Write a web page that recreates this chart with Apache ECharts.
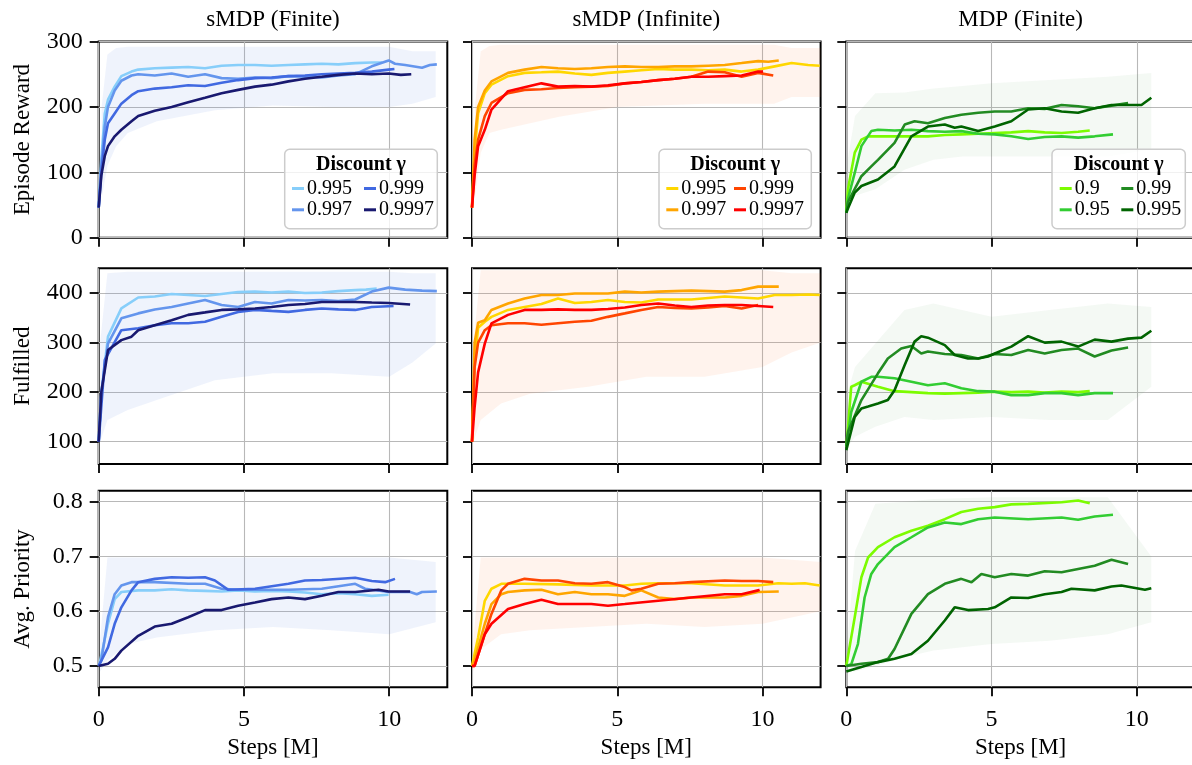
<!DOCTYPE html>
<html>
<head>
<meta charset="utf-8">
<script src="https://cdn.jsdelivr.net/npm/echarts@6/dist/echarts.min.js"></script>
<style>
  html, body { margin: 0; padding: 0; background: #fff; overflow: hidden; }
  #chart { width: 1204px; height: 765px; }
</style>
</head>
<body>
<div id="chart"></div>
<script>
// labels and ticks
const colTitles = ["sMDP (Finite)", "sMDP (Infinite)", "MDP (Finite)"];
const rowLabels = ["Episode Reward", "Fulfilled", "Avg. Priority"];
const gammaSMDP = ["0.995", "0.997", "0.999", "0.9997"];
const gammaMDP = ["0.9", "0.95", "0.99", "0.995"];
const xTicks = [0, 5, 10];
const rewardTicks = [0, 100, 200, 300];
const fulfilledTicks = [100, 200, 300, 400];
const priorityTicks = [0.5, 0.6, 0.7, 0.8];

// Episode reward, sMDP (Finite)
const sfR995 = [[0,46],[0.09,120],[0.21,190],[0.32,211],[0.55,231],[0.78,247],[1.13,254],[1.36,257],[1.93,259],[2.51,260],[3.08,261],[3.66,259],[4.23,263],[4.8,264],[5.38,264],[5.95,263],[6.53,264],[7.1,265],[7.68,266],[8.25,265],[8.83,267],[9.4,268],[9.75,268]];
const sfR997 = [[0,46],[0.09,110],[0.21,170],[0.32,200],[0.55,225],[0.78,240],[1.13,248],[1.36,250],[1.93,248],[2.51,251],[3.08,246],[3.66,250],[4.23,244],[4.8,243],[5.38,245],[5.95,244],[6.53,247],[7.1,246],[7.68,245],[8.25,248],[8.83,250],[9.4,262],[9.98,271],[10.2,266],[10.55,264],[11.13,260],[11.4,264],[11.64,265]];
const sfR999 = [[0,46],[0.09,100],[0.21,150],[0.32,175],[0.55,190],[0.78,205],[1.13,218],[1.36,224],[1.93,228],[2.51,230],[3.08,233],[3.66,232],[4.23,237],[4.8,241],[5.38,244],[5.95,245],[6.53,247],[7.1,248],[7.68,250],[8.25,251],[8.83,252],[9.4,254],[9.98,257],[10.18,258]];
const sfR9997 = [[0,46],[0.09,95],[0.21,125],[0.32,140],[0.55,155],[0.78,165],[1.13,178],[1.36,186],[1.93,194],[2.51,200],[3.08,207],[3.66,214],[4.23,221],[4.8,226],[5.38,231],[5.95,234],[6.53,239],[7.1,243],[7.68,246],[8.25,249],[8.83,251],[9.4,250],[9.98,251],[10.4,249],[10.76,250]];
// Episode reward, sMDP (Infinite)
const siR995 = [[0,46],[0.09,130],[0.21,190],[0.44,221],[0.67,234],[1.24,247],[1.81,252],[2.39,253],[2.96,254],[3.54,251],[4.11,249],[4.68,252],[5.26,254],[5.83,256],[6.41,258],[6.98,257],[7.55,257],[8.13,256],[8.7,257],[9.28,254],[9.85,257],[10.42,262],[11.0,267],[11.57,264],[11.97,263]];
const siR997 = [[0,46],[0.09,150],[0.21,200],[0.44,225],[0.67,239],[1.24,252],[1.81,257],[2.39,261],[2.96,259],[3.54,258],[4.11,259],[4.68,261],[5.26,262],[5.83,261],[6.41,261],[6.98,262],[7.55,262],[8.13,263],[8.7,264],[9.28,267],[9.85,270],[10.2,269],[10.56,271]];
const siR999 = [[0,46],[0.09,110],[0.21,150],[0.44,186],[0.67,206],[1.24,221],[1.81,226],[2.39,227],[2.96,229],[3.54,230],[4.11,231],[4.68,232],[5.26,236],[5.83,238],[6.41,241],[6.98,243],[7.55,246],[8.13,254],[8.7,253],[9.28,246],[9.85,252],[10.37,248]];
const siR9997 = [[0,46],[0.09,95],[0.21,140],[0.44,165],[0.67,196],[1.24,224],[1.81,230],[2.39,236],[2.96,231],[3.54,232],[4.11,231],[4.68,233],[5.26,236],[5.83,238],[6.41,241],[6.98,243],[7.55,246],[8.13,246],[8.7,247],[9.28,248],[9.85,254],[10.02,254]];
// Episode reward, MDP (Finite)
const mdR9 = [[0,40],[0.06,75],[0.29,130],[0.52,150],[0.75,155],[1.09,155],[1.66,155],[2.24,155],[2.81,155],[3.39,157],[3.96,158],[4.54,159],[5.11,160],[5.68,161],[6.26,163],[6.83,161],[7.41,160],[7.98,162],[8.38,164]];
const mdR95 = [[0,38],[0.06,60],[0.29,99],[0.52,140],[0.86,163],[1.09,165],[1.66,164],[2.24,165],[2.81,163],[3.39,162],[3.96,163],[4.54,159],[5.11,158],[5.68,155],[6.26,151],[6.83,154],[7.41,155],[7.98,153],[8.55,155],[9.18,158]];
const mdR99 = [[0,38],[0.06,55],[0.52,94],[0.86,109],[1.09,119],[1.66,145],[2.01,173],[2.35,178],[2.81,175],[3.39,183],[3.96,188],[4.54,191],[5.11,193],[5.68,193],[6.26,198],[6.83,197],[7.41,203],[7.98,201],[8.55,198],[9.13,202],[9.7,206]];
const mdR995 = [[0,38],[0.06,45],[0.29,69],[0.52,79],[1.09,89],[1.66,109],[2.24,155],[2.81,170],[3.39,173],[3.73,168],[3.96,170],[4.54,163],[5.11,170],[5.68,178],[6.26,196],[6.83,198],[7.41,193],[7.98,191],[8.55,198],[9.13,203],[9.7,203],[10.16,203],[10.5,214]];

// Fulfilled, sMDP (Finite)
const sfF995 = [[0,100],[0.09,197],[0.32,312],[0.78,369],[1.36,391],[1.93,393],[2.51,398],[3.08,396],[3.66,394],[4.23,398],[4.8,402],[5.38,403],[5.95,401],[6.53,403],[7.1,400],[7.68,401],[8.25,404],[8.83,406],[9.2,407],[9.57,409]];
const sfF997 = [[0,100],[0.09,200],[0.32,298],[0.78,349],[1.36,359],[1.93,367],[2.51,372],[3.08,379],[3.66,386],[4.23,376],[4.8,372],[5.38,382],[5.95,379],[6.53,386],[7.1,385],[7.68,386],[8.25,384],[8.83,387],[9.4,403],[9.98,411],[10.55,407],[11.13,405],[11.64,404]];
const sfF999 = [[0,100],[0.21,265],[0.78,325],[1.36,329],[1.93,335],[2.51,339],[3.08,339],[3.66,342],[4.23,352],[4.8,362],[5.38,366],[5.95,364],[6.53,362],[7.1,366],[7.68,369],[8.25,367],[8.83,366],[9.4,372],[10.15,374]];
const sfF9997 = [[0,100],[0.09,200],[0.32,285],[0.78,305],[1.13,312],[1.36,325],[1.93,335],[2.51,345],[3.08,356],[3.66,361],[4.23,366],[4.8,367],[5.38,369],[5.95,372],[6.53,376],[7.1,378],[7.68,382],[8.25,382],[8.83,382],[9.4,381],[9.98,380],[10.72,377]];
// Fulfilled, sMDP (Infinite)
const siF995 = [[0,100],[0.09,260],[0.21,330],[0.44,342],[0.67,352],[1.24,366],[1.81,372],[2.39,378],[2.96,389],[3.54,380],[4.11,382],[4.68,386],[5.26,382],[5.83,381],[6.41,387],[6.98,387],[7.55,387],[8.13,390],[8.7,393],[9.28,391],[9.85,389],[10.42,396],[11.0,396],[11.57,397],[11.97,396]];
const siF997 = [[0,100],[0.09,300],[0.21,340],[0.44,345],[0.67,366],[1.24,379],[1.81,389],[2.39,396],[2.96,396],[3.54,399],[4.11,399],[4.68,399],[5.26,403],[5.83,401],[6.41,403],[6.98,404],[7.55,405],[8.13,404],[8.7,403],[9.28,406],[9.85,413],[10.56,413]];
const siF999 = [[0,100],[0.09,250],[0.21,300],[0.44,325],[0.67,335],[1.24,339],[1.81,339],[2.39,336],[2.96,339],[3.54,342],[4.11,344],[4.68,352],[5.26,359],[5.83,366],[6.41,372],[6.98,370],[7.55,369],[8.13,371],[8.7,374],[9.28,369],[9.85,376]];
const siF9997 = [[0,100],[0.09,170],[0.21,240],[0.44,298],[0.67,339],[1.24,356],[1.81,366],[2.39,366],[2.96,367],[3.54,366],[4.11,366],[4.68,368],[5.26,371],[5.83,376],[6.41,379],[6.98,375],[7.55,372],[8.13,375],[8.7,376],[9.28,376],[9.85,374],[10.37,372]];
// Fulfilled, MDP (Finite)
const mdF9 = [[0,90],[0.06,130],[0.17,211],[0.29,214],[0.52,221],[1.09,211],[1.66,202],[2.24,200],[2.81,198],[3.39,197],[3.96,198],[4.54,199],[5.11,201],[5.68,200],[6.26,201],[6.83,199],[7.41,201],[7.98,200],[8.38,202]];
const mdF95 = [[0,90],[0.17,160],[0.52,221],[0.86,231],[1.09,231],[1.66,228],[2.24,221],[2.81,214],[3.39,218],[3.96,208],[4.54,202],[5.11,201],[5.68,194],[6.26,194],[6.83,198],[7.41,198],[7.98,194],[8.55,198],[9.18,198]];
const mdF99 = [[0,90],[0.06,120],[0.52,184],[1.09,238],[1.43,268],[1.89,288],[2.24,293],[2.58,278],[2.81,282],[3.39,277],[3.96,275],[4.54,268],[5.11,277],[5.68,275],[6.26,285],[6.83,278],[7.41,285],[7.98,288],[8.55,272],[9.13,284],[9.7,290]];
const mdF995 = [[0,83],[0.29,150],[0.52,167],[0.75,171],[1.09,177],[1.43,184],[1.66,204],[2.01,255],[2.35,302],[2.58,313],[2.81,310],[3.39,295],[3.73,275],[4.19,268],[4.54,268],[4.88,272],[5.11,278],[5.68,292],[6.26,313],[6.83,300],[7.41,302],[7.98,292],[8.55,306],[9.13,302],[9.7,308],[10.16,310],[10.5,324]];

// Avg. priority, sMDP (Finite)
const sfP995 = [[0,0.5],[0.03,0.504],[0.32,0.577],[0.55,0.622],[0.78,0.635],[1.36,0.638],[1.93,0.638],[2.51,0.64],[3.08,0.638],[3.66,0.637],[4.23,0.636],[4.8,0.638],[5.38,0.636],[5.95,0.637],[6.53,0.636],[7.1,0.634],[7.68,0.631],[8.25,0.633],[8.83,0.631],[9.4,0.628],[9.98,0.63]];
const sfP997 = [[0,0.5],[0.09,0.51],[0.32,0.589],[0.55,0.631],[0.78,0.647],[1.13,0.653],[1.93,0.653],[3.08,0.65],[3.66,0.65],[4.23,0.641],[4.8,0.639],[5.38,0.639],[6.53,0.639],[7.68,0.641],[8.83,0.65],[9.17,0.641],[9.98,0.635],[10.72,0.635],[10.95,0.631],[11.13,0.635],[11.64,0.636]];
const sfP999 = [[0,0.5],[0.03,0.5],[0.32,0.534],[0.55,0.577],[0.78,0.607],[1.13,0.638],[1.36,0.653],[1.93,0.659],[2.51,0.662],[3.08,0.661],[3.66,0.662],[4.0,0.656],[4.46,0.639],[5.38,0.641],[6.53,0.65],[7.1,0.656],[7.68,0.657],[8.83,0.661],[9.4,0.655],[9.86,0.653],[10.2,0.659]];
const sfP9997 = [[0,0.5],[0.32,0.504],[0.55,0.513],[0.78,0.528],[1.36,0.555],[1.93,0.572],[2.51,0.577],[3.08,0.589],[3.66,0.602],[4.23,0.602],[4.8,0.61],[5.38,0.616],[5.95,0.622],[6.53,0.625],[7.1,0.622],[7.68,0.628],[8.25,0.635],[8.83,0.635],[9.63,0.639],[9.98,0.636],[10.72,0.636]];
// Avg. priority, sMDP (Infinite)
const siP995 = [[0,0.5],[0.03,0.5],[0.21,0.552],[0.44,0.619],[0.67,0.641],[1.01,0.65],[1.81,0.65],[2.96,0.649],[4.11,0.647],[5.26,0.647],[5.83,0.65],[6.41,0.651],[7.55,0.651],[8.7,0.647],[9.85,0.647],[10.54,0.651],[11.0,0.65],[11.46,0.651],[11.97,0.647]];
const siP997 = [[0,0.5],[0.09,0.51],[0.44,0.577],[0.67,0.613],[1.01,0.631],[1.24,0.635],[1.81,0.638],[2.39,0.639],[2.96,0.631],[3.54,0.635],[4.11,0.631],[4.68,0.631],[5.26,0.628],[5.83,0.638],[6.41,0.625],[6.98,0.622],[7.55,0.625],[8.7,0.625],[9.28,0.628],[9.85,0.635],[10.56,0.636]];
const siP999 = [[0,0.5],[0.09,0.5],[0.44,0.558],[0.67,0.595],[1.01,0.638],[1.24,0.65],[1.81,0.659],[2.39,0.656],[2.96,0.656],[3.54,0.651],[4.11,0.65],[4.68,0.653],[5.26,0.644],[5.49,0.638],[5.83,0.641],[6.41,0.65],[6.98,0.651],[7.55,0.653],[8.7,0.656],[9.28,0.655],[9.85,0.655],[10.37,0.653]];
const siP9997 = [[0,0.5],[0.09,0.5],[0.44,0.558],[0.67,0.577],[1.24,0.604],[1.81,0.613],[2.39,0.621],[2.96,0.613],[4.11,0.613],[4.68,0.61],[5.26,0.613],[6.41,0.619],[7.55,0.625],[8.7,0.631],[9.28,0.631],[9.85,0.638],[9.9,0.639]];
// Avg. priority, MDP (Finite)
const mdP9 = [[0,0.5],[0.06,0.5],[0.29,0.589],[0.52,0.662],[0.75,0.698],[1.09,0.717],[1.66,0.735],[2.24,0.747],[2.81,0.756],[3.39,0.768],[3.96,0.781],[4.54,0.787],[5.11,0.79],[5.68,0.795],[6.26,0.796],[7.41,0.799],[7.98,0.802],[8.38,0.797]];
const mdP95 = [[0,0.5],[0.17,0.503],[0.4,0.54],[0.63,0.625],[0.86,0.668],[1.09,0.686],[1.66,0.717],[2.24,0.735],[2.81,0.753],[3.39,0.762],[3.96,0.759],[4.54,0.768],[5.11,0.771],[6.26,0.768],[7.41,0.771],[7.98,0.767],[8.55,0.773],[9.18,0.776]];
const mdP99 = [[0,0.5],[0.52,0.504],[1.09,0.507],[1.44,0.513],[1.66,0.531],[2.24,0.595],[2.81,0.631],[3.39,0.65],[3.96,0.659],[4.31,0.653],[4.65,0.668],[5.11,0.662],[5.68,0.668],[6.26,0.665],[6.83,0.673],[7.41,0.671],[7.98,0.677],[8.55,0.683],[9.13,0.694],[9.7,0.686]];
const mdP995 = [[0,0.49],[1.09,0.507],[1.66,0.513],[2.24,0.522],[2.81,0.546],[3.39,0.583],[3.73,0.607],[4.19,0.602],[4.88,0.604],[5.11,0.607],[5.68,0.625],[6.26,0.624],[6.83,0.631],[7.41,0.635],[7.75,0.641],[8.55,0.638],[9.13,0.645],[9.47,0.647],[10.28,0.639],[10.5,0.642]];

// spread of the raw runs behind the smoothed lines: [step, low, high]
const bandSfR = [[0.1,60,200],[0.3,110,280],[0.6,140,290],[1,160,292],[2,178,292],[4,195,292],[6,202,292],[8,200,292],[10,200,292],[10.8,205,285],[11.6,215,285]];
const bandSiR = [[0.1,60,200],[0.3,130,285],[0.6,160,293],[1,165,295],[2,175,295],[3,185,295],[5,200,295],[8,205,295],[10.4,205,295],[11,215,290],[12,215,290]];
const bandMdR = [[0.05,40,120],[0.3,64,186],[1,74,221],[2,104,222],[3,119,228],[4,124,232],[5,124,236],[7,124,241],[9,124,246],[10.5,135,252]];
const bandSfF = [[0.05,100,300],[0.3,144,440],[1,164,443],[2,184,443],[4,224,443],[6,238,443],[8,238,443],[10,231,443],[10.8,260,440],[11.6,298,440]];
const bandSiF = [[0.05,100,300],[0.3,144,446],[1,177,446],[2,197,446],[4,211,446],[6,231,446],[8,231,446],[10,251,446],[11,280,440],[12,300,440]];
const bandMdF = [[0.05,90,200],[0.3,110,251],[1,130,298],[2,150,366],[3,144,379],[5,150,352],[7,144,366],[9,144,379],[10.5,211,372]];
const bandSfP = [[0.05,0.49,0.55],[0.3,0.51,0.698],[1,0.54,0.698],[2,0.552,0.698],[4,0.565,0.698],[6,0.571,0.698],[8,0.565,0.698],[10,0.558,0.698],[11.6,0.58,0.69]];
const bandSiP = [[0.05,0.49,0.55],[0.3,0.53,0.698],[1,0.558,0.698],[2,0.565,0.698],[4,0.571,0.698],[6,0.577,0.698],[8,0.571,0.698],[10,0.577,0.698],[12,0.6,0.69]];
const bandMdP = [[0.05,0.49,0.55],[0.3,0.49,0.71],[1,0.5,0.796],[2,0.516,0.8],[3,0.528,0.805],[5,0.54,0.808],[7,0.546,0.808],[9,0.558,0.808],[10.5,0.58,0.7]];

// ---- styling / layout ----
const FONT = '"Liberation Serif", "DejaVu Serif", serif';
const palettes = [
  ["#87cefa", "#6495ed", "#4169e1", "#191970"],
  ["#ffd700", "#ffa500", "#ff4500", "#ff0000"],
  ["#7cfc00", "#32cd32", "#228b22", "#006400"]
];
const bandFill = ["rgba(100,140,225,0.10)", "rgba(255,120,60,0.09)", "rgba(60,150,60,0.06)"];
const colGammas = [gammaSMDP, gammaSMDP, gammaMDP];
const colKeys = ["sf", "si", "md"];
const colLeft = [98.7, 472.0, 846.3];
const plotW = 348.6;
const rowTop = [41.5, 268.3, 490.7];
const rowH = [196.2, 195.7, 196.6];
const rowRange = [[0, 300], [55, 450], [0.461, 0.82]];
const rowTicks = [rewardTicks, fulfilledTicks, priorityTicks];

const panelLines = [
  [[sfR995, sfR997, sfR999, sfR9997], [siR995, siR997, siR999, siR9997], [mdR9, mdR95, mdR99, mdR995]],
  [[sfF995, sfF997, sfF999, sfF9997], [siF995, siF997, siF999, siF9997], [mdF9, mdF95, mdF99, mdF995]],
  [[sfP995, sfP997, sfP999, sfP9997], [siP995, siP997, siP999, siP9997], [mdP9, mdP95, mdP99, mdP995]]
];
const panelBands = [
  [bandSfR, bandSiR, bandMdR],
  [bandSfF, bandSiF, bandMdF],
  [bandSfP, bandSiP, bandMdP]
];

const grids = [], xAxes = [], yAxes = [], series = [], legends = [], graphics = [];

function bandRenderer(band, fill) {
  return function (params, api) {
    const pts = [];
    band.forEach(b => pts.push(api.coord([b[0], b[2]])));
    for (let i = band.length - 1; i >= 0; i--) pts.push(api.coord([band[i][0], band[i][1]]));
    return { type: "polygon", shape: { points: pts }, style: { fill: fill } };
  };
}

for (let r = 0; r < 3; r++) {
  for (let c = 0; c < 3; c++) {
    const idx = r * 3 + c;
    grids.push({
      left: colLeft[c], top: rowTop[r], width: plotW, height: rowH[r],
      outerBoundsMode: "none", containLabel: false,
      show: true, borderColor: "#000", borderWidth: 2, backgroundColor: "transparent"
    });
    xAxes.push({
      type: "value", gridIndex: idx, min: 0, max: 12,
      axisLine: { show: false },
      axisTick: { show: true, inside: false, length: 9, lineStyle: { color: "#000", width: 1.8 }, customValues: xTicks },
      axisLabel: { show: r === 2, customValues: xTicks, margin: 20, fontFamily: FONT, fontSize: 24, color: "#000" },
      splitLine: { show: true, lineStyle: { color: "#b8b8b8", width: 1.1 } }
    });
    yAxes.push({
      type: "value", gridIndex: idx, min: rowRange[r][0], max: rowRange[r][1],
      axisLine: { show: false },
      axisTick: { show: true, inside: false, length: 9, lineStyle: { color: "#000", width: 1.8 }, customValues: rowTicks[r] },
      axisLabel: { show: c === 0, customValues: rowTicks[r], margin: 16, fontFamily: FONT, fontSize: 24, color: "#000" },
      splitLine: { show: true, lineStyle: { color: "#b8b8b8", width: 1.1 } }
    });

    const band = panelBands[r][c];
    series.push({
      type: "custom", xAxisIndex: idx, yAxisIndex: idx, z: 1, silent: true,
      data: [[band[0][0], band[0][1]]],
      renderItem: bandRenderer(band, bandFill[c])
    });

    panelLines[r][c].forEach((line, k) => {
      series.push({
        type: "line", name: colKeys[c] + "|" + colGammas[c][k],
        xAxisIndex: idx, yAxisIndex: idx, data: line,
        showSymbol: false, symbol: "none", z: 2 + k,
        itemStyle: { color: palettes[c][k] },
        lineStyle: { color: palettes[c][k], width: 2.6 }
      });
    });
  }
}

// legends in the top row
const legendBox = [[284.7, 149.3, 152.6, 79.4], [659, 149.3, 152.3, 79.4], [1052, 149.3, 133.3, 79.4]];
const legendLeft = [[292, 364], [666.3, 734], [1059.7, 1121.3]];
for (let c = 0; c < 3; c++) {
  const b = legendBox[c];
  graphics.push({
    type: "rect", z: 8,
    shape: { x: b[0], y: b[1], width: b[2], height: b[3], r: 5 },
    style: { fill: "rgba(255,255,255,0.8)", stroke: "#cccccc", lineWidth: 1.5 }
  });
  graphics.push({
    type: "text", z: 9, x: b[0] + b[2] / 2, y: 165,
    style: { text: "Discount \u03b3", font: "bold 20px " + FONT, fill: "#000", align: "center", verticalAlign: "middle" }
  });
  const names = colGammas[c].map(g => colKeys[c] + "|" + g);
  [names.slice(0, 2), names.slice(2, 4)].forEach((group, j) => {
    legends.push({
      orient: "vertical", left: legendLeft[c][j], top: 178.5, padding: 0,
      itemWidth: 12, itemHeight: 3, itemGap: 1.3, icon: "rect", z: 10,
      selectedMode: false, data: group,
      formatter: n => n.split("|")[1],
      textStyle: { fontFamily: FONT, fontSize: 20, lineHeight: 20, color: "#000", padding: [0, 0, 0, -2] }
    });
  });
}

// titles and axis labels
for (let c = 0; c < 3; c++) {
  graphics.push({
    type: "text", x: colLeft[c] + plotW / 2, y: 20,
    style: { text: colTitles[c], font: "23px " + FONT, fill: "#000", align: "center", verticalAlign: "middle" }
  });
  graphics.push({
    type: "text", x: colLeft[c] + plotW / 2, y: 748,
    style: { text: "Steps [M]", font: "23px " + FONT, fill: "#000", align: "center", verticalAlign: "middle" }
  });
}
for (let r = 0; r < 3; r++) {
  graphics.push({
    type: "text", x: 23, y: rowTop[r] + rowH[r] / 2, rotation: Math.PI / 2,
    style: { text: rowLabels[r], font: "23px " + FONT, fill: "#000", align: "center", verticalAlign: "middle" }
  });
}

const chart = echarts.init(document.getElementById("chart"), null, { renderer: "canvas" });
chart.setOption({
  animation: false,
  backgroundColor: "#fff",
  grid: grids,
  xAxis: xAxes,
  yAxis: yAxes,
  legend: legends,
  graphic: { elements: graphics },
  series: series
});
</script>
</body>
</html>
